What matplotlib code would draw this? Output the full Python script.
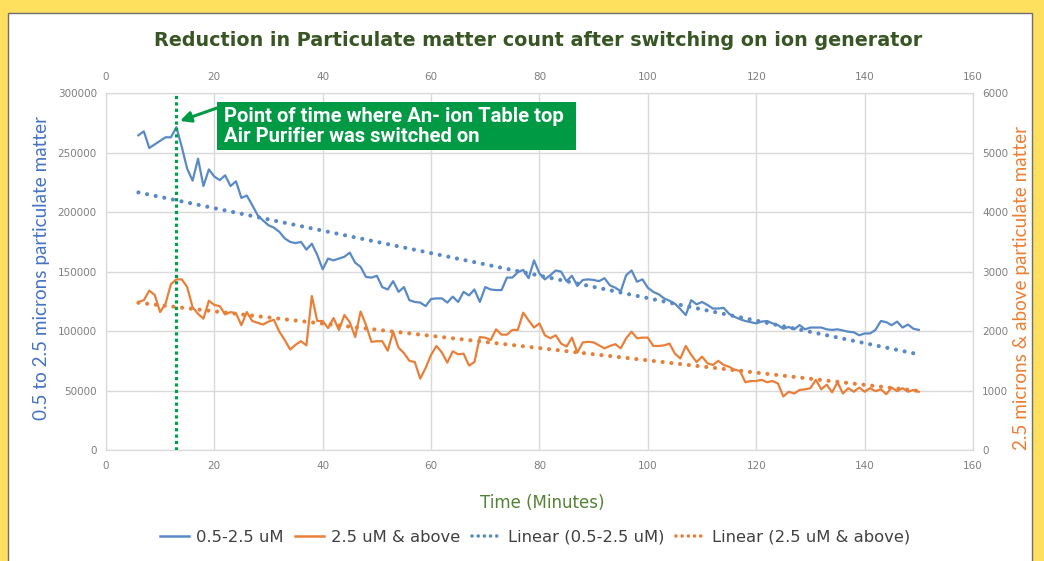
import numpy as np
import matplotlib
matplotlib.use("Agg")
import matplotlib.pyplot as plt
from matplotlib.patches import Rectangle
from matplotlib.lines import Line2D

# ---------------- data ----------------
minutes = list(range(6, 151))

pm_small = [  # 0.5-2.5 uM (left axis)
    264700, 268000, 254000, 257000, 260000, 263000, 263000, 271500, 255000, 236500,
    226500, 245000, 222000, 236000, 230000, 227000, 231000, 222000, 226000, 212000,
    214000, 206000, 197500, 193000, 189000, 187000, 183500, 178000, 175000, 174000,
    175000, 168500, 173500, 164000, 152000, 161000, 159500, 161000, 162500, 166000,
    157500, 154000, 145500, 145000, 146500, 137000, 135000, 142000, 133000, 137000,
    126000, 124500, 124000, 121000, 127000, 127500, 127500, 124000, 129000, 124500,
    133000, 130000, 135000, 124500, 137000, 135000, 134500, 134500, 145000, 145000,
    149500, 151500, 144500, 159500, 148500, 143500, 147000, 151000, 150000, 142000,
    146500, 138000, 143000, 143500, 143000, 142000, 144500, 138500, 136500, 133500,
    147000, 151000, 141500, 143500, 136500, 133000, 131000, 127500, 125500, 123000,
    118500, 113500, 126000, 122500, 124500, 122000, 119000, 119000, 119500, 114500,
    112000, 110000, 108500, 107500, 106500, 108000, 108500, 106500, 105000, 102000,
    103500, 101500, 105000, 101500, 103000, 103000, 103000, 101500, 101000, 101500,
    100500, 99500, 99000, 96500, 98000, 98000, 101000, 108500, 107500, 105000,
    108000, 103000, 105500, 102000, 101000,
]

pm_large = [  # 2.5 uM & above (right axis)
    2490, 2520, 2680, 2610, 2320, 2460, 2790, 2870, 2870, 2740,
    2400, 2290, 2210, 2510, 2440, 2420, 2280, 2320, 2300, 2100,
    2320, 2170, 2140, 2110, 2160, 2190, 1990, 1850, 1690, 1770,
    1830, 1760, 2590, 2170, 2170, 2050, 2220, 2020, 2270, 2150,
    1900, 2330, 2100, 1820, 1830, 1830, 1670, 1990, 1720, 1630,
    1500, 1480, 1200, 1380, 1600, 1750, 1640, 1470, 1660, 1610,
    1620, 1420, 1480, 1900, 1890, 1850, 2030, 1940, 1940, 2020,
    2020, 2310, 2180, 2060, 2130, 1930, 1880, 1930, 1790, 1740,
    1890, 1640, 1810, 1820, 1810, 1760, 1710, 1750, 1780, 1710,
    1880, 1990, 1880, 1890, 1890, 1750, 1750, 1760, 1790, 1620,
    1540, 1750, 1600, 1480, 1570, 1460, 1430, 1500, 1430, 1400,
    1350, 1330, 1140, 1160, 1160, 1180, 1140, 1160, 1120, 900,
    980, 950, 1010, 1020, 1040, 1180, 1020, 1100, 970, 1140,
    950, 1040, 980, 1050, 980, 1040, 990, 1020, 940, 1050,
    990, 1040, 980, 1010, 980,
]

x_ticks = [0, 20, 40, 60, 80, 100, 120, 140, 160]
left_ticks = [0, 50000, 100000, 150000, 200000, 250000, 300000]
right_ticks = [0, 1000, 2000, 3000, 4000, 5000, 6000]
switch_on_minute = 13

series_labels = ["0.5-2.5 uM", "2.5 uM & above",
                 "Linear (0.5-2.5 uM)", "Linear (2.5 uM & above)"]

BLUE = "#5A8AC6"
ORANGE = "#E8803A"
GREEN = "#00A04A"
GRID = "#D9D9D9"
TICK = "#7F7F7F"

# ---------------- figure ----------------
W, H = 1044, 561
fig = plt.figure(figsize=(W / 100, H / 100), dpi=100)
fig.patch.set_facecolor("#FFDF5E")
fig.add_artist(Rectangle((8 / W, -0.02), (1032 - 8) / W, (H - 13) / H + 0.02,
                         transform=fig.transFigure, facecolor="white",
                         edgecolor="#6E6E6E", lw=1.0, zorder=0))

x0, x1 = 105.9, 973.0
y0, y1 = 93.3, 450.0
ax = fig.add_axes([x0 / W, 1 - y1 / H, (x1 - x0) / W, (y1 - y0) / H])
ax.set_facecolor("none")
ax.set_xlim(0, 160)
ax.set_ylim(0, 300000)
ax.set_xticks(x_ticks)
ax.set_xticklabels([str(v) for v in x_ticks])
ax.set_yticks(left_ticks)
ax.set_yticklabels([str(v) for v in left_ticks])
ax.grid(True, color=GRID, lw=1.0)
ax.set_axisbelow(True)
for s in ax.spines.values():
    s.set_color(GRID)
ax.tick_params(axis="x", length=0, labelsize=7.5, labelcolor=TICK,
               labeltop=True, labelbottom=True, pad=8)
ax.tick_params(axis="y", length=0, labelsize=7.5, labelcolor=TICK, pad=6.5)

ax2 = ax.twinx()
ax2.set_ylim(0, 6000)
ax2.set_yticks(right_ticks)
ax2.set_yticklabels([str(v) for v in right_ticks])
ax2.tick_params(axis="y", length=0, labelsize=7.5, labelcolor=TICK, pad=6.5)
for s in ax2.spines.values():
    s.set_color(GRID)

t = np.array(minutes, dtype=float)
ps = np.array(pm_small, dtype=float)
pl = np.array(pm_large, dtype=float)

ax.plot(t, ps, color=BLUE, lw=1.6, zorder=3)
ax2.plot(t, pl, color=ORANGE, lw=1.6, zorder=3)

dot = (0, (0.01, 2.1))
cs = np.polyfit(t, ps, 1)
cl = np.polyfit(t, pl, 1)
tt = np.array([t[0], t[-1]])
ax.plot(tt, np.polyval(cs, tt), color=BLUE, lw=3.0, ls=dot,
        dash_capstyle="round", zorder=2)
ax2.plot(tt, np.polyval(cl, tt), color=ORANGE, lw=3.0, ls=dot,
         dash_capstyle="round", zorder=2)

# switch-on marker
ax2.axvline(switch_on_minute, color=GREEN, lw=2.3, ls=(0, (1, 1)), zorder=6)

def fx(px):
    return (px - x0) / (x1 - x0)

def fy(py):
    return (y1 - py) / (y1 - y0)

ax2.add_patch(Rectangle((fx(217), fy(150)), fx(576) - fx(217), fy(102) - fy(150),
                        transform=ax2.transAxes, facecolor="#009944",
                        edgecolor="none", zorder=7))
ax2.text(fx(224), fy(126.5), "Point of time where An- ion Table top\nAir Purifier was switched on",
         transform=ax2.transAxes, ha="left", va="center", color="white",
         fontsize=14.6, fontweight="bold", family="Roboto", linespacing=1.08, zorder=8)
ax2.annotate("", xy=(fx(180), fy(121)), xytext=(fx(217), fy(108)),
             xycoords=ax2.transAxes, textcoords=ax2.transAxes,
             arrowprops=dict(arrowstyle="-|>", color="#009944", lw=2.2,
                             mutation_scale=16, shrinkA=0, shrinkB=0), zorder=8)

# texts
fig.text(538.5 / W, 1 - 40 / H,
         "Reduction in Particulate matter count after switching on ion generator",
         ha="center", va="center", fontsize=13.8, fontweight="bold", color="#375623")
fig.text(542 / W, 1 - 503 / H, "Time (Minutes)", ha="center", va="center",
         fontsize=12, color="#548235")
fig.text(42 / W, 1 - 268 / H, "0.5 to 2.5 microns particulate matter",
         rotation=90, ha="center", va="center", fontsize=13.6, family="Lato",
         color="#4472C4")
fig.text(1021 / W, 1 - 288 / H, "2.5 microns & above particulate matter",
         rotation=90, ha="center", va="center", fontsize=13.6, family="Lato",
         color="#ED7D31")

handles = [
    Line2D([], [], color=BLUE, lw=1.8),
    Line2D([], [], color=ORANGE, lw=1.8),
    Line2D([], [], color=BLUE, lw=2.6, ls=(0, (0.01, 1.7)), dash_capstyle="round"),
    Line2D([], [], color=ORANGE, lw=2.6, ls=(0, (0.01, 1.7)), dash_capstyle="round"),
]
leg = fig.legend(handles, series_labels, loc="center",
                 bbox_to_anchor=(535 / W, 1 - 537 / H), ncol=4, frameon=False,
                 fontsize=11.8, handlelength=1.8, handletextpad=0.4,
                 columnspacing=0.7)
for txt in leg.get_texts():
    txt.set_color("#404040")

fig.savefig("out.png", dpi=100, facecolor=fig.get_facecolor())
